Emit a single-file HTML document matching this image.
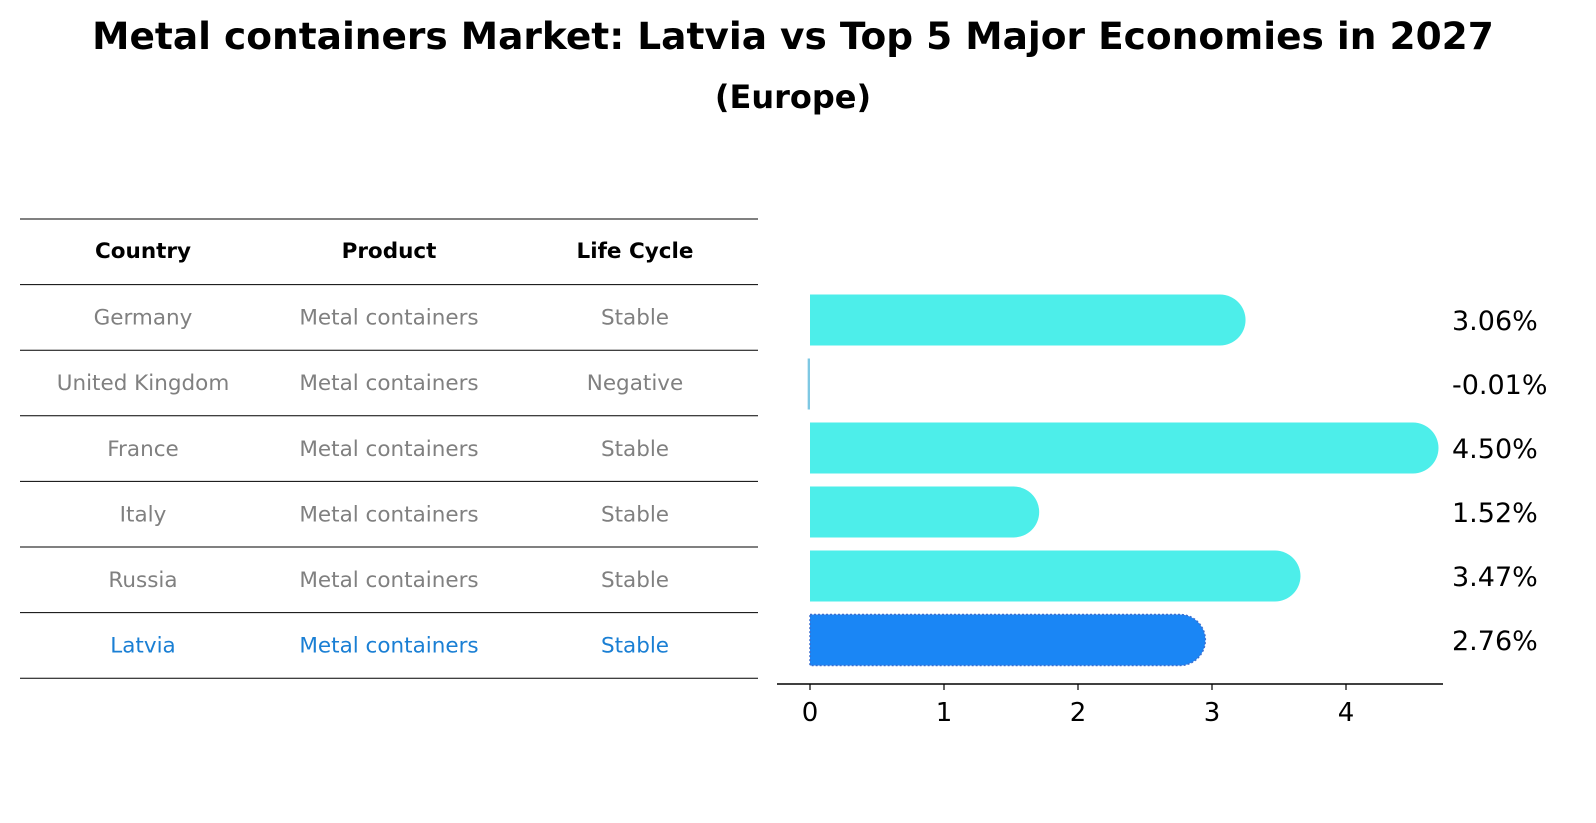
<!DOCTYPE html>
<html><head><meta charset="utf-8"><style>
body{margin:0;background:#fff;font-family:"Liberation Sans","DejaVu Sans",sans-serif;}
svg{display:block}
</style></head><body>
<svg id="c" width="1596" height="823" xmlns="http://www.w3.org/2000/svg">
<text x="793" y="49" text-anchor="middle" font-size="37.5" font-weight="bold" font-family="DejaVu Sans, Liberation Sans, sans-serif">Metal containers Market: Latvia vs Top 5 Major Economies in 2027</text>
<text x="793" y="108" text-anchor="middle" font-size="32" font-weight="bold" font-family="DejaVu Sans, Liberation Sans, sans-serif">(Europe)</text>
<g id="table"></g>
<g id="bars"></g>
</svg>
<script>
const countries=["Germany","United Kingdom","France","Italy","Russia","Latvia"];
const products=["Metal containers","Metal containers","Metal containers","Metal containers","Metal containers","Metal containers"];
const lifeCycles=["Stable","Negative","Stable","Stable","Stable","Stable"];
const growth=[3.06,-0.01,4.50,1.52,3.47,2.76];
const ticks=[0,1,2,3,4];
const NS="http://www.w3.org/2000/svg";
function mk(t,a,p){const e=document.createElementNS(NS,t);for(const k in a)e.setAttribute(k,a[k]);p.appendChild(e);return e;}
const tb=document.getElementById('table');
const cols=[143,389,635];
const rowY=i=>219+65.6*i;
for(let i=0;i<=7;i++){const l=mk('line',{x1:20,x2:758,y1:rowY(i),y2:rowY(i),stroke:'#000','stroke-width':1},tb);

}
["Country","Product","Life Cycle"].forEach((h,j)=>{const t=mk('text',{x:cols[j],y:258,'text-anchor':'middle','font-size':21.5,'font-weight':'bold','font-family':'DejaVu Sans, Liberation Sans, sans-serif'},tb);t.textContent=h;

});
countries.forEach((c,i)=>{const y=rowY(i+1)+40;const col=c==="Latvia"?'#1a7fd4':'#808080';
[c,products[i],lifeCycles[i]].forEach((v,j)=>{const t=mk('text',{x:cols[j],y:y,'text-anchor':'middle','font-size':21.5,fill:col,'font-family':'DejaVu Sans, Liberation Sans, sans-serif'},tb);t.textContent=v;

});});
const bg=document.getElementById('bars');
const xs=v=>810+134*v;
const yc=i=>320+64*i;
const h=51,r=25.5;
growth.forEach((v,i)=>{const y=yc(i)-h/2;const last=i===countries.length-1;
let el;
if(v<=0){el=mk('rect',{x:xs(v)-1,y:y,width:Math.max(2,xs(0)-xs(v)+1),height:h,fill:'#7ec8e3'},bg);}
else{const x0=xs(0),x1=xs(v);
el=mk('path',{d:`M${x0},${y} L${x1},${y} A${r},${r} 0 0 1 ${x1},${y+h} L${x0},${y+h} Z`,fill:last?'#1a86f5':'#4deeea',stroke:last?'#3b6fd0':'none','stroke-width':last?1.5:0,'stroke-dasharray':last?'2,2':''},bg);}


const t=mk('text',{x:1452,y:yc(i)+10,'font-size':27,fill:'#000','font-family':'DejaVu Sans, Liberation Sans, sans-serif'},bg);t.textContent=v.toFixed(2)+'%';

});
const ax=mk('line',{x1:777,x2:1443,y1:684,y2:684,stroke:'#000','stroke-width':1.5},bg);


ticks.forEach(v=>{const tk=mk('line',{x1:xs(v),x2:xs(v),y1:684,y2:690,stroke:'#000','stroke-width':1.2},bg);


const t=mk('text',{x:xs(v),y:721,'text-anchor':'middle','font-size':26,'font-family':'DejaVu Sans, Liberation Sans, sans-serif'},bg);t.textContent=v;

});
</script>
</body></html>
